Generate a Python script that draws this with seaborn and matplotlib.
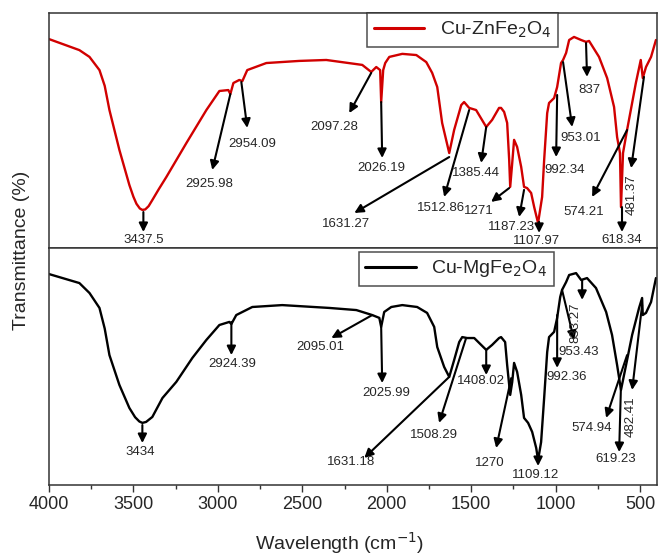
import numpy as np
import pandas as pd
import matplotlib
matplotlib.use("Agg")
import matplotlib.pyplot as plt
import seaborn as sns

# FTIR spectra (wavenumber in cm-1, transmittance in arb. %)
zn_wn = [4000, 3820, 3760, 3701, 3670, 3642, 3583, 3524, 3500, 3482, 3462, 3447,
         3430, 3410, 3388, 3350, 3305, 3186, 3068, 2991, 2938, 2926, 2908, 2873,
         2855, 2826, 2713, 2518, 2358, 2145, 2092, 2062, 2039, 2033, 2021, 2009,
         1985, 1908, 1825, 1766, 1731, 1701, 1672, 1630, 1601, 1559, 1542, 1512,
         1471, 1411, 1376, 1335, 1323, 1305, 1287, 1275, 1269, 1257, 1246, 1228,
         1204, 1187, 1169, 1145, 1127, 1104, 1080, 1068, 1050, 1039, 1009, 991,
         968, 956, 938, 920, 891, 849, 820, 802, 743, 695, 654, 636, 619, 613,
         601, 577, 525, 496, 484, 465, 435, 406]
zn_t = [88.9, 84.2, 81.3, 75.7, 69.0, 58.7, 41.7, 26.8, 21.8, 18.8, 16.8, 16.2,
        16.4, 17.8, 20.4, 25.0, 30.2, 44.7, 58.7, 66.8, 67.2, 65.5, 70.2, 71.5,
        71.0, 75.7, 78.7, 79.6, 80.0, 77.9, 74.9, 77.0, 75.7, 62.1, 75.7, 78.7,
        81.3, 82.6, 82.1, 79.1, 74.5, 68.5, 53.2, 40.4, 50.2, 60.8, 62.1, 59.6,
        58.7, 51.5, 54.5, 59.6, 59.6, 57.9, 53.2, 37.4, 26.0, 36.2, 46.0, 43.0,
        34.5, 26.0, 25.5, 23.4, 17.4, 10.6, 21.7, 37.4, 57.4, 61.7, 63.8, 68.5,
        78.7, 80.0, 83.0, 88.5, 89.8, 88.5, 87.7, 88.1, 81.3, 72.3, 60.0, 47.2,
        40.4, 17.4, 40.4, 50.2, 70.2, 80.0, 72.3, 77.0, 81.3, 88.5]

mg_wn = [4000, 3820, 3760, 3701, 3670, 3642, 3583, 3524, 3490, 3465, 3447, 3425,
         3388, 3328, 3246, 3151, 3068, 2991, 2932, 2920, 2891, 2796, 2619, 2340,
         2180, 2086, 2044, 2033, 2015, 1973, 1908, 1820, 1761, 1719, 1701, 1660,
         1630, 1601, 1571, 1553, 1524, 1482, 1441, 1411, 1376, 1335, 1323, 1299,
         1287, 1269, 1257, 1246, 1228, 1204, 1187, 1163, 1139, 1115, 1104, 1086,
         1068, 1050, 1039, 1009, 991, 973, 962, 938, 920, 879, 849, 814, 761,
         701, 666, 636, 613, 583, 547, 506, 488, 484, 465, 435, 406]
mg_t = [89.0, 85.2, 81.0, 74.7, 66.0, 54.8, 42.2, 32.5, 28.6, 26.8, 26.2, 26.6,
        28.7, 36.7, 43.5, 53.6, 61.2, 67.5, 68.8, 67.9, 71.7, 75.1, 75.9, 74.7,
        73.8, 71.7, 70.5, 66.7, 73.0, 75.1, 75.9, 75.1, 72.6, 66.7, 58.2, 49.8,
        45.6, 52.7, 60.3, 62.4, 62.0, 62.0, 59.1, 57.0, 59.1, 62.0, 62.4, 60.3,
        50.6, 38.0, 43.5, 51.5, 47.7, 38.0, 28.3, 26.2, 22.4, 15.6, 10.5, 18.1,
        36.7, 56.1, 62.4, 64.6, 70.5, 79.3, 82.3, 85.6, 88.6, 89.4, 86.5, 87.3,
        83.1, 73.0, 63.3, 50.6, 40.1, 50.6, 63.3, 74.7, 78.9, 71.7, 72.6, 77.2,
        87.3]

# peak labels: (text, arrow start, arrow tip, label centre, rotation)
zn_peaks = [
    ("3437.5", (3441, 15.3), (3441, 6.8), (3441, 3.2), 0),
    ("2925.98", (2926, 65.5), (3033, 33.2), (3050, 27.2), 0),
    ("2954.09", (2861, 70.6), (2826, 51.1), (2796, 44.3), 0),
    ("2097.28", (2092, 74.5), (2222, 57.4), (2311, 51.5), 0),
    ("2026.19", (2033, 62.1), (2027, 38.3), (2033, 34.0), 0),
    ("1631.27", (1630, 38.7), (2192, 14.9), (2240, 10.2), 0),
    ("1512.86", (1512, 58.7), (1660, 21.7), (1678, 17.0), 0),
    ("1385.44", (1411, 51.5), (1441, 36.2), (1471, 31.9), 0),
    ("1271", (1275, 25.5), (1382, 19.6), (1453, 15.7), 0),
    ("1187.23", (1187, 24.7), (1216, 13.2), (1264, 8.9), 0),
    ("1107.97", (1098, 11.1), (1098, 6.4), (1115, 3.0), 0),
    ("992.34", (991, 65.1), (997, 38.7), (944, 33.2), 0),
    ("953.01", (956, 79.1), (902, 51.5), (849, 46.8), 0),
    ("837", (820, 87.2), (814, 72.8), (802, 67.2), 0),
    ("574.21", (577, 50.2), (784, 21.7), (832, 15.3), 0),
    ("618.34", (607, 17.4), (607, 6.8), (607, 3.2), 0),
    ("481.37", (477, 72.8), (553, 34.0), (547, 22.6), 90),
]
mg_peaks = [
    ("3434", (3447, 25.3), (3447, 17.7), (3458, 13.9), 0),
    ("2924.39", (2920, 68.8), (2920, 54.8), (2914, 51.2), 0),
    ("2095.01", (2086, 71.7), (2328, 62.0), (2393, 58.2), 0),
    ("2025.99", (2033, 66.7), (2027, 43.0), (2003, 38.8), 0),
    ("1631.18", (1630, 45.6), (2133, 11.4), (2210, 9.7), 0),
    ("1508.29", (1530, 62.0), (1690, 26.2), (1719, 21.1), 0),
    ("1408.02", (1411, 57.0), (1411, 46.4), (1441, 43.9), 0),
    ("1270", (1263, 45.1), (1352, 15.6), (1388, 9.3), 0),
    ("1109.12", (1104, 11.4), (1104, 8.0), (1121, 4.2), 0),
    ("992.36", (991, 71.7), (991, 49.4), (932, 45.6), 0),
    ("953.43", (962, 82.3), (891, 61.2), (861, 56.1), 0),
    ("833.27", (843, 86.5), (843, 78.1), (885, 68.3), 90),
    ("574.94", (577, 54.8), (701, 28.3), (784, 24.0), 0),
    ("619.23", (613, 42.2), (624, 13.9), (642, 11.0), 0),
    ("482.41", (488, 75.9), (547, 40.1), (553, 28.7), 90),
]

sns.set_style("ticks")
plt.rcParams['font.family'] = ['Liberation Sans', 'DejaVu Sans']

fig = plt.figure(figsize=(6.6, 5.57), dpi=100)
ax1 = fig.add_axes([0.0742, 0.5548, 0.9212, 0.4219])
ax2 = fig.add_axes([0.0742, 0.1293, 0.9212, 0.4255], sharex=ax1)

df_zn = pd.DataFrame({"wn": zn_wn, "t": zn_t})
df_mg = pd.DataFrame({"wn": mg_wn, "t": mg_t})
sns.lineplot(data=df_zn, x="wn", y="t", ax=ax1, color="#d10000", lw=1.7,
             sort=False, estimator=None, label="Cu-ZnFe$_2$O$_4$")
sns.lineplot(data=df_mg, x="wn", y="t", ax=ax2, color="black", lw=1.7,
             sort=False, estimator=None, label="Cu-MgFe$_2$O$_4$")

for ax, peaks in [(ax1, zn_peaks), (ax2, mg_peaks)]:
    for txt, start, tip, lab, rot in peaks:
        ax.annotate("", xy=tip, xytext=start,
                    arrowprops=dict(arrowstyle="-|>", color="black", lw=1.5,
                                    mutation_scale=13, shrinkA=0, shrinkB=0))
        ax.text(lab[0], lab[1], txt, ha="center", va="center", fontsize=9.5,
                rotation=rot)
    ax.set_ylim(0, 100)
    ax.set_yticks([])
    ax.set_ylabel("")
    for s in ax.spines.values():
        s.set_color("#333333")
        s.set_linewidth(1.1)

ax1.set_xlim(4000, 400)
ax1.tick_params(axis="x", bottom=False, labelbottom=False)
ax1.set_xlabel("")

ax2.set_xticks([4000, 3500, 3000, 2500, 2000, 1500, 1000, 500])
ax2.set_xticks(np.arange(3750, 400, -500), minor=True)
ax2.tick_params(axis="x", which="major", direction="out", length=5, width=1,
                labelsize=13, pad=3, color="#333333")
ax2.tick_params(axis="x", which="minor", direction="out", length=3, width=1,
                color="#333333")
ax2.set_xlabel("Wavelength (cm$^{-1}$)", fontsize=14)
ax2.xaxis.set_label_coords(0.478, -0.19)

fig.text(0.033, 0.551, "Transmittance (%)", rotation=90, ha="center",
         va="center", fontsize=14)

for ax, xpos, ypos in [(ax1, 0.68, 1.0), (ax2, 0.67, 0.985)]:
    leg = ax.legend(loc="upper center", bbox_to_anchor=(xpos, ypos),
                    fontsize=14, frameon=True, fancybox=False,
                    handlelength=2.6, borderaxespad=0, borderpad=0.35,
                    handletextpad=0.8)
    leg.get_frame().set_edgecolor("#222222")
    leg.get_frame().set_linewidth(1.1)
    for line in leg.get_lines():
        line.set_linewidth(2.2)

fig.savefig("out.png", dpi=100)
